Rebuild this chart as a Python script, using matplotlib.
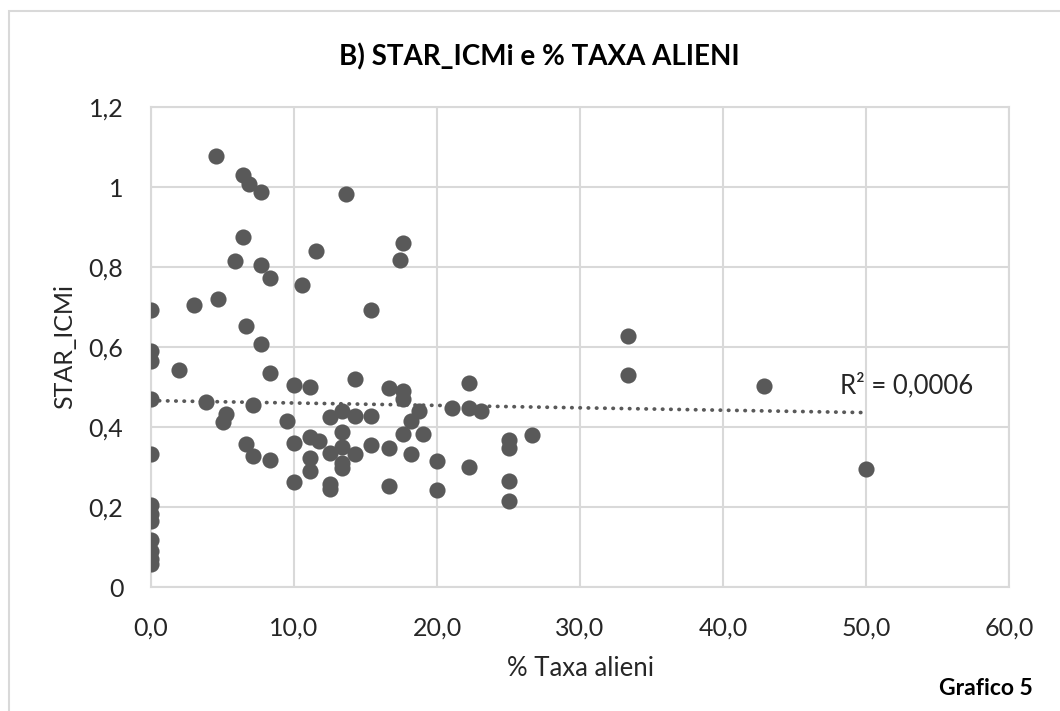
import numpy as np
import matplotlib.pyplot as plt
from matplotlib.patches import Rectangle
from matplotlib.ticker import FixedLocator, FuncFormatter

plt.rcParams['font.family'] = ['Lato', 'DejaVu Sans']

# % taxa alieni per sito
taxa_alieni = [
    0.0, 0.0, 0.0, 0.0, 0.0, 0.0, 0.0, 0.0, 0.0, 0.0, 0.0, 0.0,
    1.92, 3.03, 3.85, 4.55, 4.65, 5.0, 5.26, 5.88,
    6.45, 6.45, 6.67, 6.67, 6.85, 7.14, 7.14, 7.69, 7.69, 7.69,
    8.33, 8.33, 8.33, 9.52, 10.0, 10.0, 10.0, 10.53,
    11.11, 11.11, 11.11, 11.11, 11.56, 11.76,
    12.5, 12.5, 12.5, 12.5, 13.33, 13.33, 13.33, 13.33, 13.33, 13.64,
    14.29, 14.29, 14.29, 15.38, 15.38, 15.38, 16.67, 16.67, 16.67,
    17.39, 17.65, 17.65, 17.65, 17.65, 18.18, 18.18, 18.75, 19.05,
    20.0, 20.0, 21.05, 22.22, 22.22, 22.22, 23.08,
    25.0, 25.0, 25.0, 25.0, 26.67, 33.33, 33.33, 42.86, 50.0,
]

# STAR_ICMi corrispondente
star_icmi = [
    0.692, 0.589, 0.566, 0.471, 0.332, 0.204, 0.183, 0.165, 0.118, 0.090, 0.070, 0.058,
    0.542, 0.705, 0.462, 1.078, 0.719, 0.413, 0.433, 0.815,
    1.029, 0.874, 0.652, 0.357, 1.008, 0.456, 0.328, 0.987, 0.805, 0.608,
    0.773, 0.536, 0.318, 0.416, 0.505, 0.361, 0.262, 0.754,
    0.501, 0.375, 0.323, 0.290, 0.840, 0.364,
    0.426, 0.335, 0.258, 0.246, 0.440, 0.387, 0.350, 0.310, 0.298, 0.982,
    0.520, 0.427, 0.332, 0.692, 0.427, 0.356, 0.497, 0.347, 0.253,
    0.817, 0.859, 0.490, 0.469, 0.383, 0.416, 0.332, 0.441, 0.382,
    0.314, 0.243, 0.447, 0.509, 0.447, 0.299, 0.439,
    0.368, 0.348, 0.265, 0.214, 0.380, 0.628, 0.531, 0.502, 0.294,
]

# linea di tendenza (coefficienti della regressione lineare)
trend_intercept = 0.466
trend_slope = -0.0006
r2_label = 'R² = 0,0006'

x_ticks = [0, 10, 20, 30, 40, 50, 60]
y_ticks = [0, 0.2, 0.4, 0.6, 0.8, 1.0, 1.2]

grey = '#595959'
grid_grey = '#d9d9d9'
text_col = '#262626'

fig = plt.figure(figsize=(10.6, 7.11), dpi=100)
ax = fig.add_axes([0.1425, 0.1744, 0.8094, 0.6751])

# cornice del grafico
fig.patches.append(Rectangle((9 / 1060, -0.1), 1.2, 1 - 11 / 711 + 0.1,
                             transform=fig.transFigure, fill=False,
                             edgecolor=grid_grey, linewidth=1.5))

ax.scatter(taxa_alieni, star_icmi, s=135, color=grey, zorder=3,
           linewidths=0)

xx = np.array([0, max(taxa_alieni)])
ax.plot(xx, trend_intercept + trend_slope * xx, color=grey, linewidth=2.7,
        linestyle=(0, (0.1, 2.1)), dash_capstyle='round', zorder=2)
ax.text(48.2, 0.504, r2_label, fontsize=18.5, color=text_col,
        va='center', ha='left', zorder=4)

ax.set_xlim(0, 60)
ax.set_ylim(0, 1.2)
ax.xaxis.set_major_locator(FixedLocator(x_ticks))
ax.yaxis.set_major_locator(FixedLocator(y_ticks))
ax.xaxis.set_major_formatter(
    FuncFormatter(lambda v, p: f'{v:.1f}'.replace('.', ',')))
ax.yaxis.set_major_formatter(
    FuncFormatter(lambda v, p: f'{v:g}'.replace('.', ',')))
ax.tick_params(length=0, labelsize=18, labelcolor=text_col)
ax.tick_params(axis='y', pad=20)
ax.tick_params(axis='x', pad=21)

ax.grid(True, color=grid_grey, linewidth=1.5, zorder=0)
ax.set_axisbelow(True)
for sp in ax.spines.values():
    sp.set_color(grid_grey)
    sp.set_linewidth(1.5)

ax.set_xlabel('% Taxa alieni', fontsize=18.5, color=text_col, labelpad=12)
ax.set_ylabel('STAR_ICMi', fontsize=18, color=text_col, labelpad=9)
fig.text(0.509, 0.92, 'B) STAR_ICMi e % TAXA ALIENI', fontsize=20,
         fontweight='bold', ha='center', va='center', color='#000000')
fig.text(0.9745, 0.032, 'Grafico 5', fontsize=16.5, fontweight='bold',
         ha='right', va='center', color='#000000')

plt.savefig('out.png', dpi=100)
